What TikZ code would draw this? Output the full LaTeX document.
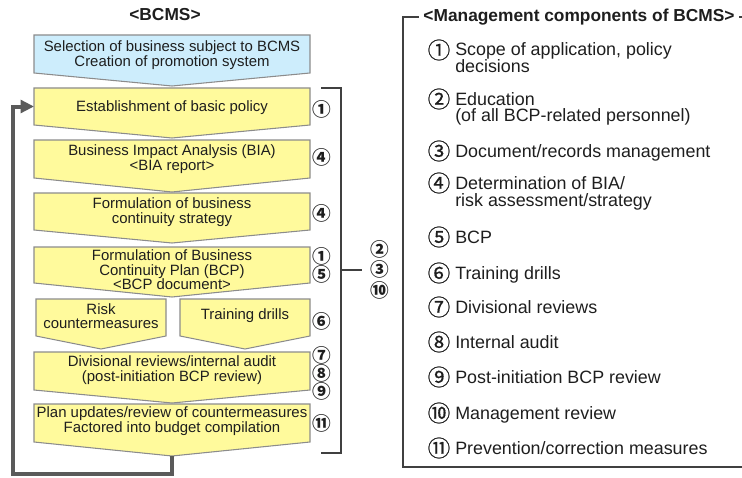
\documentclass[tikz,border=0pt]{standalone}
\usepackage{fontspec}
\setmainfont{Liberation Sans}
\newfontfamily\cjk{Noto Sans CJK JP}
\newfontfamily\cjkmed[FakeBold=0.5]{Noto Sans CJK JP}
\usetikzlibrary{arrows.meta}
\definecolor{boxyellow}{HTML}{FFFA9C}
\definecolor{boxblue}{HTML}{CDEDFC}
\definecolor{edgegray}{HTML}{8C8C8C}
\definecolor{loopgray}{HTML}{5A5A5A}
\definecolor{ink}{HTML}{1E1E1E}
\tikzset{
  boxtext/.style={inner sep=0pt, align=center, text=ink, font=\fontsize{11.2}{10.9}\selectfont},
  chevshape/.style={draw=edgegray, line width=0.8pt},
  numl/.style={inner sep=0pt, text=ink, font=\cjk\bfseries\fontsize{14}{14}\selectfont},
  numr/.style={inner sep=0pt, text=ink, font=\cjkmed\fontsize{17}{17}\selectfont},
  itemtext/.style={inner sep=0pt, anchor=base west, text=ink, font=\fontsize{13.4}{13.4}\selectfont},
  headtext/.style={inner sep=0pt, text=ink, font=\bfseries\fontsize{13}{13}\selectfont},
  bracketline/.style={draw=black!75, line width=0.8pt},
  loopline/.style={draw=loopgray, line width=3pt, -{Triangle[length=10pt,width=9.5pt]}},
}
% name, xl, xr, ytop, yside, ytip, fill, text y, text
\newcommand\chevbox[9]{%
  \path[chevshape, fill=#7] (#2,#4) -- (#3,#4) -- (#3,#5) -- ({(#2+#3)/2},#6) -- (#2,#5) -- cycle;
  \coordinate (#1-tip) at ({(#2+#3)/2},#6);
  \coordinate (#1-w) at (#2,{(#4+#5)/2});
  \node[boxtext] (#1) at ({(#2+#3)/2},#8) {#9};
}
\begin{document}
\begin{tikzpicture}[x=0.75pt, y=-0.75pt]
\useasboundingbox (0,0) rectangle (742,478);
% headings
\node[headtext] (bcmshead) at (165,15) {<BCMS>};
% boxes
\chevbox{sel}{34}{310}{35}{73}{86}{boxblue}{55}{Selection of business subject to BCMS\\Creation of promotion system}
\chevbox{policy}{34}{310}{88}{125}{138}{boxyellow}{108}{Establishment of basic policy}
\chevbox{bia}{34}{310}{140}{178}{192}{boxyellow}{159}{Business Impact Analysis (BIA)\\<BIA report>}
\chevbox{strat}{34}{310}{193}{230}{243}{boxyellow}{212}{Formulation of business\\continuity strategy}
\chevbox{bcp}{34}{310}{247}{283}{297}{boxyellow}{270}{Formulation of Business\\Continuity Plan (BCP)\\<BCP document>}
\chevbox{risk}{36}{166}{299}{336}{349}{boxyellow}{316}{Risk\\countermeasures}
\chevbox{drill}{180}{310}{299}{336}{349}{boxyellow}{316}{Training drills}
\chevbox{div}{34}{310}{352}{390}{403}{boxyellow}{370}{Divisional reviews/internal audit\\(post-initiation BCP review)}
\chevbox{plan}{34}{310}{404}{442}{456}{boxyellow}{421}{Plan updates/review of countermeasures\\Factored into budget compilation}
% loop arrow
\coordinate (loopbl) at (13,474);
\draw[loopline] (plan-tip) |- (loopbl) |- (policy-w);
% left numbers
\node[numl] (n1) at (322,109) {①};
\node[numl] (n2) at (322,157) {④};
\node[numl] (n3) at (322,213) {④};
\node[numl] (n4) at (322,256) {①};
\node[numl] (n5) at (322,274) {⑤};
\node[numl] (n6) at (322,321) {⑥};
\node[numl] (n7) at (322,355) {⑦};
\node[numl] (n8) at (322,373) {⑧};
\node[numl] (n9) at (322,391) {⑨};
\node[numl] (n10) at (322,423) {⑪};
% bracket
\coordinate (brt) at (321,88);
\coordinate (brb) at (321,453);
\coordinate (brm) at (341,270);
\coordinate (brmr) at (362,270);
\draw[bracketline] (brt) -- (341,88) -- (341,453) -- (brb);
\draw[bracketline] (brm) -- (brmr);
\node[numl] (m1) at (380,249) {②};
\node[numl] (m2) at (380,269) {③};
\node[numl] (m3) at (380,290) {⑩};
% right panel
\draw[bracketline] (760,17) -- (403,17) -- (403,467) -- (760,467);
\node[headtext, fill=white, inner xsep=3pt, inner ysep=2pt] (mchead) at (579,17) {<Management components of BCMS>};
\node[numr] (r1) at (439,50) {①};
\node[itemtext] (t1) at (455,56) {Scope of application, policy};
\node[itemtext] (t1b) at (455,73) {decisions};
\node[numr] (r2) at (439,99) {②};
\node[itemtext] (t2) at (455,105) {Education};
\node[itemtext] (t2b) at (455,121) {(of all BCP-related personnel)};
\node[numr] (r3) at (439,151) {③};
\node[itemtext] (t3) at (455,157) {Document/records management};
\node[numr] (r4) at (439,183) {④};
\node[itemtext] (t4) at (455,189) {Determination of BIA/};
\node[itemtext] (t4b) at (455,206) {risk assessment/strategy};
\node[numr] (r5) at (439,237) {⑤};
\node[itemtext] (t5) at (455,243) {BCP};
\node[numr] (r6) at (439,273) {⑥};
\node[itemtext] (t6) at (455,279) {Training drills};
\node[numr] (r7) at (439,307) {⑦};
\node[itemtext] (t7) at (455,313) {Divisional reviews};
\node[numr] (r8) at (439,342) {⑧};
\node[itemtext] (t8) at (455,348) {Internal audit};
\node[numr] (r9) at (439,377) {⑨};
\node[itemtext] (t9) at (455,383) {Post-initiation BCP review};
\node[numr] (r10) at (439,413) {⑩};
\node[itemtext] (t10) at (455,419) {Management review};
\node[numr] (r11) at (439,448) {⑪};
\node[itemtext] (t11) at (455,454) {Prevention/correction measures};
\end{tikzpicture}
\end{document}
